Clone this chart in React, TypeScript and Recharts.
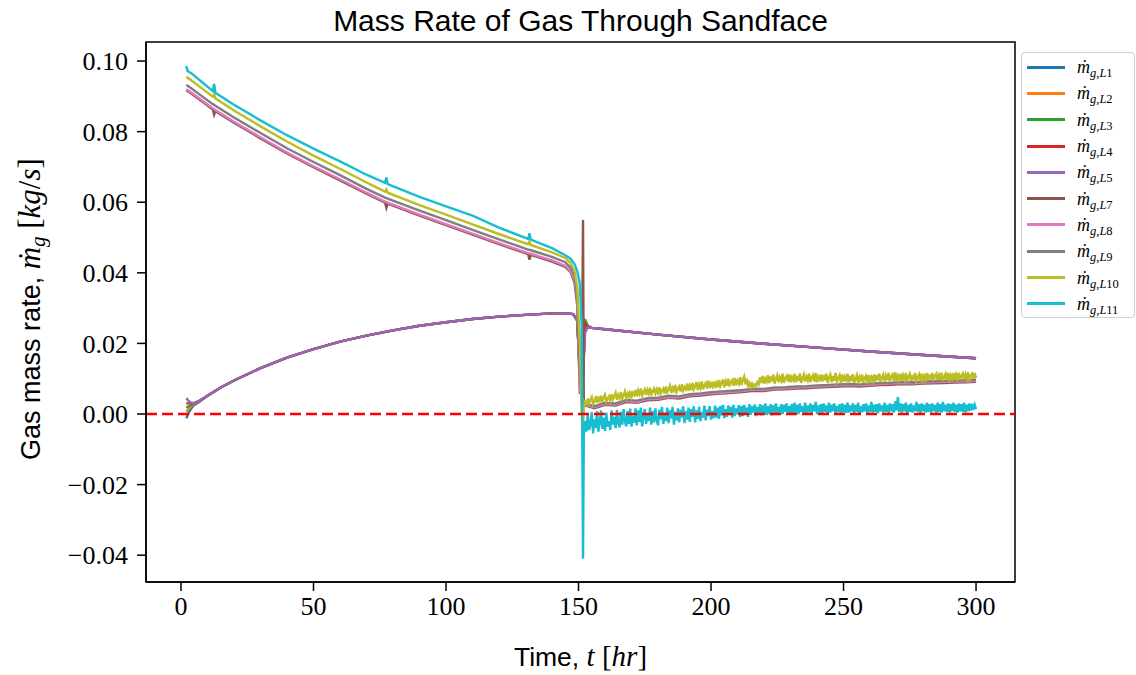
import React from 'react';
import { LineChart, Line, XAxis, YAxis, ReferenceLine, ReferenceArea, Label } from 'recharts';

// time grids, hr
const tUpper = [2, 2.5, 4, 8, 12, 12.5, 13, 20, 30, 40, 50, 60, 70, 77, 77.5, 78, 90, 100, 110, 120, 131, 131.5, 132, 140, 145, 147, 148.5, 149.5, 150.5, 151.2, 151.7];
const tBand = [152, 156, 160, 164, 168, 172, 176, 180, 184, 188, 192, 196, 200, 204, 208, 212, 216, 220, 224, 228, 232, 236, 240, 244, 248, 252, 256, 260, 264, 268, 272, 276, 280, 284, 288, 292, 296, 300];
const tNoise = [
  152, 152.5, 153, 153.5, 154, 154.5, 155, 155.5, 156, 156.5, 157, 157.5, 158, 158.5, 159, 159.5, 160, 160.5, 161, 161.5,
  162, 162.5, 163, 163.5, 164, 164.5, 165, 165.5, 166, 166.5, 167, 167.5, 168, 168.5, 169, 169.5, 170, 170.5, 171, 171.5,
  172, 172.5, 173, 173.5, 174, 174.5, 175, 175.5, 176, 176.5, 177, 177.5, 178, 178.5, 179, 179.5, 180, 180.5, 181, 181.5,
  182, 182.5, 183, 183.5, 184, 184.5, 185, 185.5, 186, 186.5, 187, 187.5, 188, 188.5, 189, 189.5, 190, 190.5, 191, 191.5,
  192, 192.5, 193, 193.5, 194, 194.5, 195, 195.5, 196, 196.5, 197, 197.5, 198, 198.5, 199, 199.5, 200, 200.5, 201, 201.5,
  202, 202.5, 203, 203.5, 204, 204.5, 205, 205.5, 206, 206.5, 207, 207.5, 208, 208.5, 209, 209.5, 210, 210.5, 211, 211.5,
  212, 212.5, 213, 213.5, 214, 214.5, 215, 215.5, 216, 216.5, 217, 217.5, 218, 218.5, 219, 219.5, 220, 220.5, 221, 221.5,
  222, 222.5, 223, 223.5, 224, 224.5, 225, 225.5, 226, 226.5, 227, 227.5, 228, 228.5, 229, 229.5, 230, 230.5, 231, 231.5,
  232, 232.5, 233, 233.5, 234, 234.5, 235, 235.5, 236, 236.5, 237, 237.5, 238, 238.5, 239, 239.5, 240, 240.5, 241, 241.5,
  242, 242.5, 243, 243.5, 244, 244.5, 245, 245.5, 246, 246.5, 247, 247.5, 248, 248.5, 249, 249.5, 250, 250.5, 251, 251.5,
  252, 252.5, 253, 253.5, 254, 254.5, 255, 255.5, 256, 256.5, 257, 257.5, 258, 258.5, 259, 259.5, 260, 260.5, 261, 261.5,
  262, 262.5, 263, 263.5, 264, 264.5, 265, 265.5, 266, 266.5, 267, 267.5, 268, 268.5, 269, 269.5, 270, 270.5, 271, 271.5,
  272, 272.5, 273, 273.5, 274, 274.5, 275, 275.5, 276, 276.5, 277, 277.5, 278, 278.5, 279, 279.5, 280, 280.5, 281, 281.5,
  282, 282.5, 283, 283.5, 284, 284.5, 285, 285.5, 286, 286.5, 287, 287.5, 288, 288.5, 289, 289.5, 290, 290.5, 291, 291.5,
  292, 292.5, 293, 293.5, 294, 294.5, 295, 295.5, 296, 296.5, 297, 297.5, 298, 298.5, 299, 299.5, 300,
];
const tLower = [2, 3, 4, 5, 7, 10, 15, 20, 30, 40, 50, 60, 70, 80, 90, 100, 110, 120, 130, 140, 145, 148, 149.5, 150.5, 151.5, 152.5, 153.5, 155, 160, 180, 200, 220, 240, 260, 280, 300];

// lower group, kg/s
const mL1 = [-0.0012, 0.0005, 0.0017, 0.0025, 0.0035, 0.0052, 0.0075, 0.0095, 0.0130, 0.0160, 0.0184, 0.0205, 0.0222, 0.0237, 0.0250, 0.0260, 0.0269, 0.0276, 0.0281, 0.0285, 0.0285, 0.0283, 0.0265, 0.0120, 0.0080, 0.0268, 0.0250, 0.0244, 0.0240, 0.0225, 0.0211, 0.0199, 0.0188, 0.0177, 0.0167, 0.0158];
const mL2 = [0.0007, 0.0015, 0.0022, 0.0027, 0.0036, 0.0052, 0.0075, 0.0095, 0.0130, 0.0160, 0.0184, 0.0205, 0.0222, 0.0237, 0.0250, 0.0260, 0.0269, 0.0276, 0.0281, 0.0285, 0.0285, 0.0283, 0.0265, 0.0120, 0.0080, 0.0263, 0.0249, 0.0244, 0.0240, 0.0225, 0.0211, 0.0199, 0.0188, 0.0177, 0.0167, 0.0158];
const mL3 = [0.0018, 0.0022, 0.0026, 0.0029, 0.0037, 0.0052, 0.0075, 0.0095, 0.0130, 0.0160, 0.0184, 0.0205, 0.0222, 0.0237, 0.0250, 0.0260, 0.0269, 0.0276, 0.0281, 0.0285, 0.0285, 0.0283, 0.0265, 0.0120, 0.0080, 0.0260, 0.0248, 0.0244, 0.0240, 0.0225, 0.0211, 0.0199, 0.0188, 0.0177, 0.0167, 0.0158];
const mL4 = [0.0030, 0.0030, 0.0030, 0.0031, 0.0038, 0.0052, 0.0075, 0.0095, 0.0130, 0.0160, 0.0184, 0.0205, 0.0222, 0.0237, 0.0250, 0.0260, 0.0269, 0.0276, 0.0281, 0.0285, 0.0285, 0.0283, 0.0265, 0.0120, 0.0080, 0.0255, 0.0247, 0.0244, 0.0240, 0.0225, 0.0211, 0.0199, 0.0188, 0.0177, 0.0167, 0.0158];
const mL5 = [0.0045, 0.0036, 0.0031, 0.0031, 0.0038, 0.0052, 0.0075, 0.0095, 0.0130, 0.0160, 0.0184, 0.0205, 0.0222, 0.0237, 0.0250, 0.0260, 0.0269, 0.0276, 0.0281, 0.0285, 0.0285, 0.0283, 0.0265, 0.0120, 0.0080, 0.0230, 0.0245, 0.0244, 0.0240, 0.0225, 0.0211, 0.0199, 0.0188, 0.0177, 0.0167, 0.0158];

// upper group before the shut-in, kg/s
const mL7Pre = [0.0917, 0.0915, 0.0907, 0.0885, 0.0863, 0.0848, 0.0858, 0.0825, 0.0781, 0.0738, 0.0699, 0.0662, 0.0624, 0.0599, 0.0584, 0.0596, 0.0562, 0.0535, 0.0508, 0.0481, 0.0453, 0.0437, 0.0451, 0.0432, 0.0417, 0.0402, 0.0372, 0.0310, 0.0060, 0.0060, 0.0550];
const mL8Pre = [0.0920, 0.0918, 0.0910, 0.0888, 0.0866, 0.0864, 0.0861, 0.0828, 0.0784, 0.0741, 0.0702, 0.0665, 0.0627, 0.0602, 0.0601, 0.0599, 0.0565, 0.0538, 0.0511, 0.0484, 0.0456, 0.0455, 0.0454, 0.0435, 0.0420, 0.0405, 0.0378, 0.0330, 0.0070, 0.0050, 0.0040];
const mL9Pre = [0.0932, 0.0930, 0.0922, 0.0900, 0.0878, 0.0876, 0.0873, 0.0840, 0.0796, 0.0753, 0.0714, 0.0677, 0.0638, 0.0613, 0.0612, 0.0610, 0.0576, 0.0549, 0.0522, 0.0495, 0.0466, 0.0465, 0.0464, 0.0445, 0.0430, 0.0415, 0.0390, 0.0340, 0.0110, 0.0045, 0.0032];
const mL10Pre = [0.0955, 0.0953, 0.0945, 0.0922, 0.0899, 0.0905, 0.0894, 0.0860, 0.0815, 0.0772, 0.0732, 0.0695, 0.0656, 0.0630, 0.0636, 0.0627, 0.0592, 0.0565, 0.0537, 0.0510, 0.0481, 0.0488, 0.0479, 0.0458, 0.0442, 0.0428, 0.0405, 0.0360, 0.0200, 0.0000, -0.0040];
const mL11Pre = [0.0986, 0.0972, 0.0965, 0.0940, 0.0915, 0.0935, 0.0910, 0.0876, 0.0832, 0.0790, 0.0752, 0.0716, 0.0678, 0.0655, 0.0670, 0.0651, 0.0615, 0.0588, 0.0562, 0.0528, 0.0496, 0.0512, 0.0494, 0.0470, 0.0450, 0.0440, 0.0425, 0.0405, 0.0370, 0.0250, -0.0410];

// upper group after the shut-in, kg/s
const mL7Post = [0.0025, 0.0016, 0.0026, 0.0024, 0.0034, 0.0032, 0.0039, 0.0040, 0.0046, 0.0044, 0.0050, 0.0052, 0.0056, 0.0058, 0.0060, 0.0062, 0.0066, 0.0065, 0.0069, 0.0070, 0.0072, 0.0073, 0.0075, 0.0076, 0.0078, 0.0079, 0.0078, 0.0080, 0.0082, 0.0083, 0.0085, 0.0084, 0.0086, 0.0087, 0.0088, 0.0089, 0.0090, 0.0091];
const mL8Post = [0.0027, 0.0019, 0.0029, 0.0026, 0.0037, 0.0034, 0.0042, 0.0043, 0.0048, 0.0047, 0.0053, 0.0055, 0.0059, 0.0060, 0.0063, 0.0065, 0.0069, 0.0068, 0.0072, 0.0073, 0.0075, 0.0076, 0.0078, 0.0079, 0.0081, 0.0082, 0.0081, 0.0083, 0.0085, 0.0086, 0.0088, 0.0087, 0.0089, 0.0090, 0.0091, 0.0092, 0.0093, 0.0094];
const mL9Post = [0.0030, 0.0022, 0.0032, 0.0030, 0.0040, 0.0038, 0.0045, 0.0046, 0.0052, 0.0050, 0.0056, 0.0058, 0.0062, 0.0064, 0.0066, 0.0068, 0.0072, 0.0071, 0.0075, 0.0076, 0.0078, 0.0079, 0.0081, 0.0082, 0.0084, 0.0085, 0.0084, 0.0086, 0.0088, 0.0089, 0.0091, 0.0090, 0.0092, 0.0093, 0.0094, 0.0095, 0.0096, 0.0097];
// noisy series, in 1e-4 kg/s, half-hourly (tNoise)
const mL10Post = [
  20, 38, 25, 44, 30, 40, 48, 28, 36, 50, 32, 45, 38, 52, 34, 47, 55, 36, 44, 50,
  38, 56, 42, 50, 60, 40, 54, 46, 62, 44, 52, 64, 46, 58, 50, 66, 48, 60, 54, 68,
  50, 66, 56, 72, 52, 62, 70, 54, 68, 58, 74, 56, 64, 72, 58, 70, 60, 76, 58, 66,
  72, 58, 78, 62, 70, 80, 60, 74, 66, 82, 62, 72, 78, 64, 84, 66, 76, 70, 86, 66,
  80, 68, 88, 70, 78, 90, 68, 84, 74, 92, 70, 82, 88, 72, 94, 74, 86, 78, 92, 74,
  88, 76, 96, 78, 86, 98, 76, 92, 80, 100, 78, 90, 96, 80, 102, 82, 94, 86, 104, 82,
  96, 106, 84, 100, 80, 88, 76, 86, 78, 84, 80, 90, 84, 104, 88, 108, 86, 100, 92, 110,
  88, 106, 92, 112, 86, 100, 110, 90, 104, 94, 114, 88, 102, 108, 92, 112, 90, 104, 96, 114,
  90, 108, 94, 115, 88, 102, 112, 92, 106, 96, 114, 90, 104, 110, 92, 116, 90, 106, 98, 112,
  92, 110, 96, 114, 88, 104, 112, 90, 108, 94, 116, 92, 102, 110, 88, 112, 92, 106, 96, 114,
  90, 108, 94, 113, 88, 100, 110, 86, 104, 92, 112, 88, 102, 108, 86, 110, 90, 104, 94, 112,
  92, 110, 96, 114, 90, 104, 112, 92, 108, 96, 116, 92, 106, 112, 94, 118, 92, 108, 98, 114,
  94, 110, 98, 116, 92, 106, 114, 94, 110, 96, 116, 94, 104, 112, 92, 114, 96, 108, 98, 116,
  96, 112, 98, 116, 94, 108, 114, 96, 110, 98, 117, 94, 106, 114, 96, 116, 98, 110, 100, 116,
  96, 112, 100, 117, 96, 108, 115, 98, 112, 100, 118, 98, 108, 114, 100, 116, 102,
];
const mL11Post = [
  -60, -20, -50, 0, -45, -30, 5, -55, -15, -40, 8, -50, -25, 10, -42, -10, -48, 4, -35, -20,
  -45, 10, -30, -8, -40, 12, -25, -38, 6, -30, 14, -20, -35, 8, -28, 15, -36, -5, -25, 16,
  -32, 10, -22, 18, -35, -6, 14, -28, 2, -20, 18, -30, 8, -24, 16, -18, -32, 12, -15, 20,
  -28, 4, -20, 18, -26, 10, -12, 20, -30, 6, -18, 16, -24, 12, -10, 22, -26, 8, -16, 18,
  -22, 14, -8, 22, -24, 10, -14, 20, -20, 6, -10, 24, -18, 12, -6, 22, -16, 8, -12, 24,
  -10, 18, -14, 22, -4, 26, -12, 14, -8, 24, -2, 20, -10, 26, -6, 16, 0, 25, -8, 22,
  -6, 26, 2, 18, -8, 28, -2, 22, 4, 27, -6, 20, 0, 28, -4, 24, 2, 30, -3, 22,
  0, 28, -4, 24, 3, 30, -2, 20, 4, 28, 0, 26, 6, 30, -2, 22, 3, 28, 0, 32,
  4, 26, 0, 30, 6, 22, 2, 32, 0, 24, 5, 30, 2, 26, 8, 34, 0, 24, 4, 28,
  2, 30, 6, 24, 0, 32, 4, 26, 8, 30, 2, 22, 6, 28, 0, 30, 5, 26, 3, 32,
  4, 24, 8, 30, 2, 26, 6, 32, 0, 22, 5, 28, 8, 30, 2, 24, 6, 34, 4, 26,
  6, 28, 2, 30, 8, 24, 4, 32, 6, 26, 2, 30, 8, 28, 4, 36, 10, 48, 6, 30,
  4, 28, 8, 32, 2, 26, 6, 30, 4, 24, 8, 34, 6, 28, 2, 30, 8, 26, 4, 32,
  6, 28, 4, 30, 8, 26, 2, 32, 6, 28, 4, 34, 8, 26, 6, 30, 4, 28, 8, 32,
  6, 26, 4, 30, 8, 28, 6, 32, 4, 26, 8, 30, 10, 28, 12, 26, 14,
];

const seriesNames = ['L1', 'L2', 'L3', 'L4', 'L5', 'L7', 'L8', 'L9', 'L10', 'L11'];
const seriesColors = ['#1f77b4', '#ff7f0e', '#2ca02c', '#d62728', '#9467bd', '#8c564b', '#e377c2', '#7f7f7f', '#bcbd22', '#17becf'];

const xTicks = [0, 50, 100, 150, 200, 250, 300];
const yTicks = [-0.04, -0.02, 0, 0.02, 0.04, 0.06, 0.08, 0.1];
const xDomain = [-13.2, 314.7];
const yDomain = [-0.0476, 0.1054];

const pts = (ts: number[], vs: number[], unit = 1) =>
  vs.slice(0, ts.length).map((v, i) => ({ t: ts[i], v: v * unit }));

const seriesData = [
  pts(tLower, mL1),
  pts(tLower, mL2),
  pts(tLower, mL3),
  pts(tLower, mL4),
  pts(tLower, mL5),
  [...pts(tUpper, mL7Pre), ...pts(tBand, mL7Post)],
  [...pts(tUpper, mL8Pre), ...pts(tBand, mL8Post)],
  [...pts(tUpper, mL9Pre), ...pts(tBand, mL9Post)],
  [...pts(tUpper, mL10Pre), ...pts(tNoise, mL10Post, 1e-4)],
  [...pts(tUpper, mL11Pre), ...pts(tNoise, mL11Post, 1e-4)],
];

const SERIF = '"Liberation Serif", "Times New Roman", serif';
const SANS = '"Liberation Sans", Arial, sans-serif';

const fmtY = (v: number) => (v < -1e-9 ? '\u2212' + Math.abs(v).toFixed(2) : Math.abs(v).toFixed(2));

const XTitle = (props: any) => {
  const vb = props.viewBox || { x: 146, width: 869 };
  return (
    <text x={vb.x + vb.width / 2} y={666} textAnchor="middle" fontSize={26.5} fill="#000" style={{ whiteSpace: 'pre' }}>
      <tspan fontFamily={SANS}>Time, </tspan>
      <tspan fontFamily={SERIF} fontStyle="italic" fontSize={29}>t</tspan>
      <tspan fontFamily={SERIF} fontSize={29}> [</tspan>
      <tspan fontFamily={SERIF} fontStyle="italic" fontSize={29}>hr</tspan>
      <tspan fontFamily={SERIF} fontSize={29}>]</tspan>
    </text>
  );
};

const YTitle = (props: any) => {
  const vb = props.viewBox || { y: 42, height: 540 };
  const cy = vb.y + vb.height / 2 - 3;
  const x = 40;
  return (
    <text x={x} y={cy} textAnchor="middle" fontSize={27} fill="#000" transform={`rotate(-90, ${x}, ${cy})`} style={{ whiteSpace: 'pre' }}>
      <tspan fontFamily={SANS}>Gas mass rate, </tspan>
      <tspan fontFamily={SERIF} fontStyle="italic" fontSize={31}>ṁ</tspan>
      <tspan fontFamily={SERIF} fontStyle="italic" fontSize={21} dy={5}>g</tspan>
      <tspan fontFamily={SERIF} fontSize={31} dy={-5}> [</tspan>
      <tspan fontFamily={SERIF} fontStyle="italic" fontSize={31}>kg</tspan>
      <tspan fontFamily={SERIF} fontSize={31}>/</tspan>
      <tspan fontFamily={SERIF} fontStyle="italic" fontSize={31}>s</tspan>
      <tspan fontFamily={SERIF} fontSize={31}>]</tspan>
    </text>
  );
};

const LegendBox = () => (
  <div
    style={{
      position: 'absolute',
      left: 1021,
      top: 52,
      width: 114,
      height: 266,
      border: '1px solid #d0d0d0',
      borderRadius: 4,
      background: 'rgba(255,255,255,0.8)',
      boxSizing: 'border-box',
      paddingTop: 1,
    }}
  >
    {seriesNames.map((name, i) => (
      <div key={name} style={{ height: 26.3, display: 'flex', alignItems: 'center' }}>
        <div style={{ marginLeft: 5, width: 38, height: 3, background: seriesColors[i] }} />
        <div style={{ marginLeft: 12, fontFamily: SERIF, color: '#000', lineHeight: 1, whiteSpace: 'nowrap' }}>
          <span style={{ fontStyle: 'italic', fontSize: 18 }}>ṁ</span>
          <span style={{ fontSize: 12.5, position: 'relative', top: 4 }}>
            <i>g</i>,<i>L</i>{name.slice(1)}
          </span>
        </div>
      </div>
    ))}
  </div>
);

export default function App() {
  return (
    <div style={{ position: 'absolute', left: 0, top: 0, width: 1136, height: 675, background: '#fff' }}>
      <div
        style={{
          position: 'absolute',
          left: 146,
          top: 3,
          width: 869,
          textAlign: 'center',
          fontFamily: SANS,
          fontSize: 30,
          lineHeight: '36px',
          color: '#000',
        }}
      >
        Mass Rate of Gas Through Sandface
      </div>
      <LineChart width={1136} height={675} margin={{ top: 42, right: 121, bottom: 0, left: 0 }}>
        <XAxis
          dataKey="t"
          type="number"
          domain={xDomain}
          ticks={xTicks}
          allowDataOverflow
          height={93}
          tickSize={9}
          tickMargin={6}
          stroke="#000"
          strokeWidth={1.5}
          tick={{ fontFamily: SERIF, fontSize: 26, fill: '#000' }}
        >
          <Label content={XTitle} />
        </XAxis>
        <YAxis
          type="number"
          domain={yDomain}
          ticks={yTicks}
          allowDataOverflow
          width={146}
          tickSize={9}
          tickMargin={9}
          tickFormatter={fmtY}
          stroke="#000"
          strokeWidth={1.5}
          tick={{ fontFamily: SERIF, fontSize: 26, fill: '#000' }}
        >
          <Label content={YTitle} />
        </YAxis>
        {seriesData.map((d, i) => (
          <Line
            key={seriesNames[i]}
            data={d}
            dataKey="v"
            type="linear"
            stroke={seriesColors[i]}
            strokeWidth={2.4}
            dot={false}
            activeDot={false}
            isAnimationActive={false}
          />
        ))}
        <ReferenceLine y={0} stroke="#ff0000" strokeWidth={2.5} strokeDasharray="11 5" />
        <ReferenceArea x1={xDomain[0]} x2={xDomain[1]} y1={yDomain[0]} y2={yDomain[1]} fill="none" fillOpacity={0} stroke="#000" strokeWidth={1.5} ifOverflow="visible" />
      </LineChart>
      <LegendBox />
    </div>
  );
}
